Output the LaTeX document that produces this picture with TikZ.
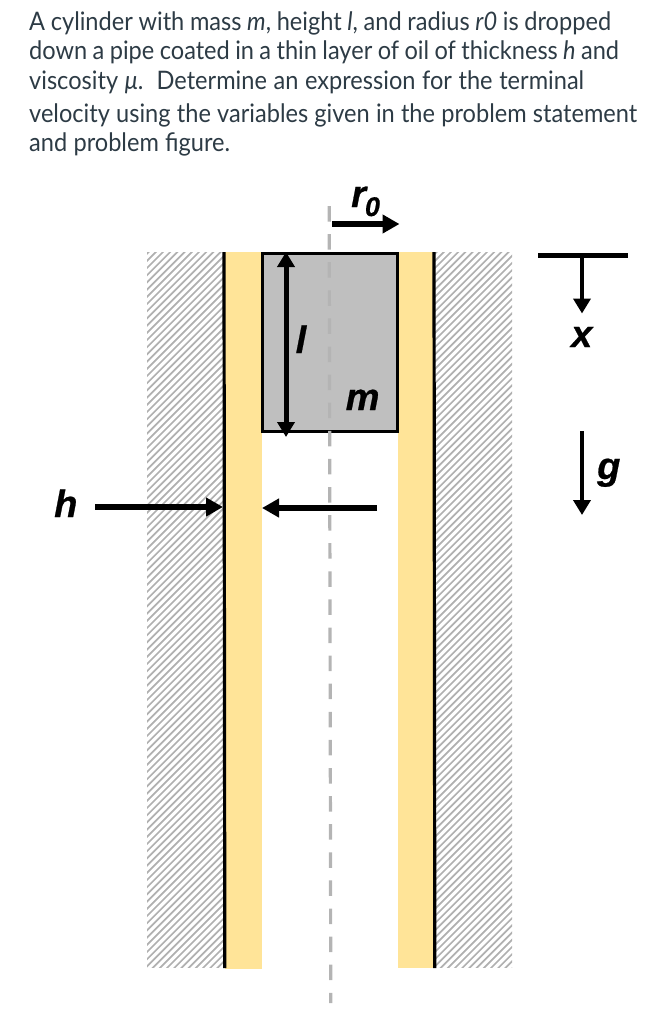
\documentclass[tikz,border=0pt]{standalone}
\usepackage{fontspec}
\setmainfont[FakeStretch=0.925]{Lato}
\newfontfamily\labelfont[ItalicFont={Liberation Sans Bold Italic},ItalicFeatures={FakeBold=0.6}]{Liberation Sans}
\usetikzlibrary{arrows.meta}
\definecolor{oil}{HTML}{FFE498}
\definecolor{cyl}{HTML}{BFBFBF}
\definecolor{txt}{HTML}{2D3B45}
\definecolor{hatch}{HTML}{B0B0B0}
\definecolor{axisgray}{HTML}{B4B4B4}
\newcommand{\fitline}[2]{\hbox to #1pt{\spaceskip=0.22em plus 1em minus 1em\relax #2}}
\tikzset{
  textline/.style={anchor=base west,inner sep=0pt,text=txt,font=\fontsize{25.5}{28}\selectfont},
  varlabel/.style={anchor=base west,inner sep=0pt,font=\labelfont\itshape\fontsize{38}{38}\selectfont},
  bigarrow/.style={line width=5.5pt,-{Triangle[length=17pt,width=18pt]}},
  smallarrow/.style={line width=4pt,-{Triangle[length=15pt,width=17pt]}},
  wall/.style={draw=black,line width=3.2pt},
  hatchline/.style={draw=hatch,line width=1.7pt},
}
\begin{document}
\begin{tikzpicture}[x=1pt,y=-1pt]
\useasboundingbox (0,0) rectangle (672,1018);
% text
\node[textline] (t1) at (29,30) {\fitline{582}{A cylinder with mass \textit{m}, height \textit{l}, and radius \textit{r0} is dropped}};
\node[textline] (t2) at (29,59) {\fitline{590}{down a pipe coated in a thin layer of oil of thickness \textit{h} and}};
\node[textline] (t3) at (29,89.5) {\fitline{555}{viscosity \textit{μ}.\ \ Determine an expression for the terminal}};
\node[textline] (t4) at (29,122) {\fitline{608}{velocity using the variables given in the problem statement}};
\node[textline] (t5) at (29,151) {\fitline{201}{and problem figure.}};
% hatching
\begin{scope}
\clip (147,252) rectangle (224,967);
\foreach \k in {0,...,115} {\draw[hatchline] (147-20,252+\k*7.2) -- ++(120,-120);}
\end{scope}
\begin{scope}
\clip (435,252) rectangle (512,967);
\foreach \k in {0,...,115} {\draw[hatchline] (435-20,252+\k*7.2) -- ++(120,-120);}
\end{scope}
% oil
\fill[oil] (225,252) rectangle (262,968.5);
\fill[oil] (398,252) rectangle (433,968);
% cylinder
\node[draw=black,line width=3pt,fill=cyl,minimum width=135pt,minimum height=178.5pt,inner sep=0pt,outer sep=0pt] (cyl) at (330,342.25) {};
% walls
\coordinate (lwt) at (224,252); \coordinate (lwb) at (224.8,968);
\coordinate (rwt) at (434,252); \coordinate (rwb) at (434.8,968);
\draw[wall] (lwt) -- (lwb);
\draw[wall] (rwt) -- (rwb);
% centre line
\coordinate (ct) at (329.2,206); \coordinate (cb) at (330.8,1003);
\draw[draw=axisgray,line width=3.2pt,dash pattern=on 15.5pt off 12.6pt] (ct) -- (cb);
% r0
\coordinate (r1) at (332,224); \coordinate (r2) at (399.5,224);
\draw[bigarrow] (r1) -- (r2);
\node[varlabel] (r0) at (351,207) {r\raisebox{-9pt}{\fontsize{27}{27}\selectfont\kern-1pt 0}};
% l
\coordinate (l1) at (286,252); \coordinate (l2) at (286,437);
\draw[line width=5pt,{Triangle[length=15pt,width=17pt]}-{Triangle[length=15pt,width=17pt]}] (l1) -- (l2);
\node[varlabel] (l) at (295.5,353) {l};
\node[varlabel] (m) at (345.5,410) {m};
% h
\node[varlabel] (h) at (54,517) {h};
\coordinate (h1) at (95,507); \coordinate (h2) at (223,507);
\coordinate (h3) at (377,508); \coordinate (h4) at (262,508);
\draw[bigarrow] (h1) -- (h2);
\draw[bigarrow] (h3) -- (h4);
% x
\coordinate (b1) at (538,255.5); \coordinate (b2) at (628,255.5);
\coordinate (x1) at (582,255.5); \coordinate (x2) at (582,313.5);
\draw[line width=5.5pt] (b1) -- (b2);
\draw[smallarrow] (x1) -- (x2);
\node[varlabel] (x) at (571,347) {x};
% g
\coordinate (g1) at (582,431); \coordinate (g2) at (582,515);
\draw[smallarrow] (g1) -- (g2);
\node[varlabel] (g) at (597,479) {g};
\end{tikzpicture}
\end{document}
